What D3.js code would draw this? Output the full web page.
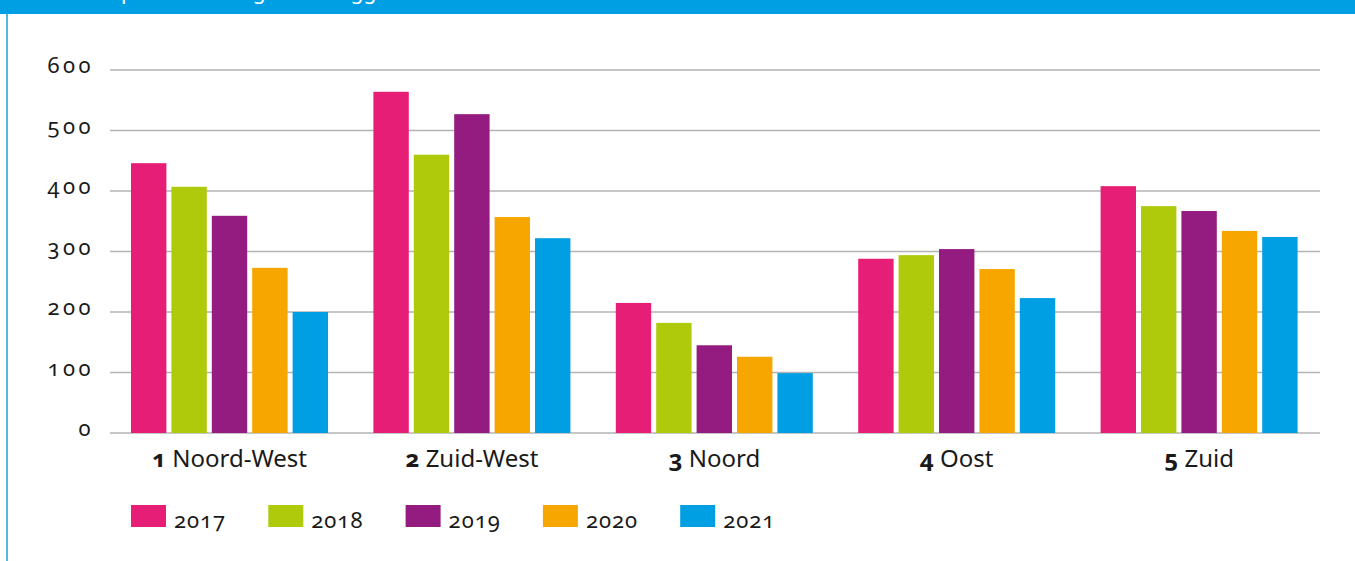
<!DOCTYPE html>
<html>
<head>
<meta charset="utf-8">
<script src="https://cdn.jsdelivr.net/npm/d3@7"></script>
<style>
  body { margin: 0; background: #fff; }
  svg text { font-family: "Noto Sans", "Open Sans", sans-serif; }
  .onum { font-feature-settings: "onum" 1; font-variant-numeric: oldstyle-nums; }
</style>
</head>
<body>
<div id="chart"></div>
<script>
// data
var regions = ["1 Noord-West", "2 Zuid-West", "3 Noord", "4 Oost", "5 Zuid"];
var years = ["2017", "2018", "2019", "2020", "2021"];
var v2017 = [446, 564, 215, 288, 408];
var v2018 = [407, 460, 182, 294, 375];
var v2019 = [359, 527, 145, 304, 367];
var v2020 = [273, 357, 126, 271, 334];
var v2021 = [200, 322, 99, 223, 324];
var yTicks = [0, 100, 200, 300, 400, 500, 600];
var colors = ["#e71e76", "#afca0b", "#941b80", "#f7a600", "#009fe3"];

var series = [v2017, v2018, v2019, v2020, v2021];
var data = regions.map(function(r, i) {
  return { region: r, values: years.map(function(y, j) { return { year: y, value: series[j][i] }; }) };
});

var width = 1355, height = 561;

var svg = d3.select("#chart")
  .append("svg")
    .attr("width", width)
    .attr("height", height);

// header bar + left border
svg.append("rect")
  .attr("x", 0).attr("y", 0)
  .attr("width", width).attr("height", 14)
  .attr("fill", "#009fe3");
svg.append("text")
  .attr("x", 40).attr("y", -1)
  .attr("fill", "white")
  .attr("font-size", "21px")
  .text("Aantal opnamen in regio's na leggen");
svg.append("line")
  .attr("x1", 7).attr("x2", 7)
  .attr("y1", 14).attr("y2", height)
  .attr("stroke", "#4cb8e6")
  .attr("stroke-width", 2);

// scales
var x0 = d3.scaleBand()
  .domain(regions)
  .range([110, 1322]);

var x1 = d3.scaleBand()
  .domain(years)
  .range([21, 218])
  .paddingInner(0.124);

var y = d3.scaleLinear()
  .domain([0, 600])
  .range([433, 70]);

var color = d3.scaleOrdinal()
  .domain(years)
  .range(colors);

// gridlines
svg.append("g")
  .selectAll("line")
  .data(yTicks)
  .enter()
  .append("line")
    .attr("x1", 110).attr("x2", 1320)
    .attr("y1", function(d) { return y(d); })
    .attr("y2", function(d) { return y(d); })
    .attr("stroke", "#b3b3b3")
    .attr("stroke-width", 1.5);

// y labels
svg.append("g")
  .selectAll("text")
  .data(yTicks)
  .enter()
  .append("text")
    .attr("class", "onum")
    .attr("x", 94)
    .attr("y", function(d) { return y(d) + 3; })
    .attr("text-anchor", "end")
    .attr("font-size", "22px")
    .attr("letter-spacing", "3.5px")
    .attr("fill", "#1a1a1a")
    .text(function(d) { return d; });

// bars
var groups = svg.append("g")
  .selectAll("g")
  .data(data)
  .enter()
  .append("g")
    .attr("transform", function(d) { return "translate(" + x0(d.region) + ",0)"; });

groups.selectAll("rect")
  .data(function(d) { return d.values; })
  .enter()
  .append("rect")
    .attr("x", function(d) { return x1(d.year); })
    .attr("y", function(d) { return y(d.value); })
    .attr("width", x1.bandwidth())
    .attr("height", function(d) { return y(0) - y(d.value); })
    .attr("fill", function(d) { return color(d.year); });

// category labels
var cat = svg.append("g")
  .selectAll("text")
  .data(regions)
  .enter()
  .append("text")
    .attr("class", "onum")
    .attr("x", function(d) { return x0(d) + 21 + 197 / 2; })
    .attr("y", 467)
    .attr("text-anchor", "middle")
    .attr("font-size", "24px")
    .attr("fill", "#1a1a1a");
cat.append("tspan")
  .attr("font-weight", "bold")
  .text(function(d) { return d.split(" ")[0] + " "; });
cat.append("tspan")
  .text(function(d) { return d.split(" ").slice(1).join(" "); });

// legend
var legend = svg.append("g")
  .selectAll("g")
  .data(years)
  .enter()
  .append("g")
    .attr("transform", function(d, i) { return "translate(" + (131 + i * 137.3) + ",505)"; });
legend.append("rect")
  .attr("width", 35).attr("height", 22)
  .attr("fill", function(d) { return color(d); });
legend.append("text")
  .attr("class", "onum")
  .attr("x", 43).attr("y", 23)
  .attr("font-size", "22px")
  .attr("letter-spacing", "1px")
  .attr("fill", "#1a1a1a")
  .text(function(d) { return d; });
</script>
</body>
</html>
